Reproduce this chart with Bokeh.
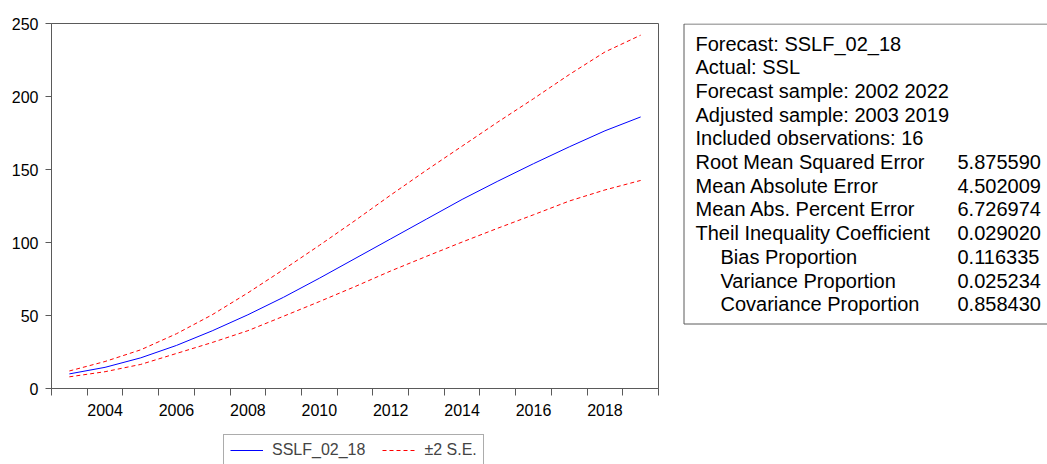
from bokeh.plotting import figure
from bokeh.models import Range1d, FixedTicker, Legend, LegendItem, ColumnDataSource
from bokeh.layouts import row, column
from bokeh.transform import dodge
from bokeh.core.properties import value
from bokeh.embed import file_html
from bokeh.resources import INLINE

# ---------------- data ----------------
years = list(range(2003, 2020))
forecast = [10, 14.5, 21, 29.5, 39.5, 50.5, 62.5, 75.5, 89, 102.5, 116, 129.5, 142, 154, 165.5, 176.5, 186]
upper = [12, 18.5, 26.5, 37.5, 50.5, 65.5, 81.5, 98, 115, 132.5, 149.5, 166, 182.5, 198.5, 215, 230.5, 242]
lower = [8, 11.5, 16.5, 24, 31.5, 39.6, 49.5, 59.5, 69.8, 80.5, 90.5, 100.3, 109.8, 119, 128.4, 136, 142.5]

x_tick_labels = ["2004", "2006", "2008", "2010", "2012", "2014", "2016", "2018"]
y_ticks = [0, 50, 100, 150, 200, 250]
series_names = ["SSLF_02_18", "\u00b12 S.E."]

stat_labels = [
    "Forecast: SSLF_02_18",
    "Actual: SSL",
    "Forecast sample: 2002 2022",
    "Adjusted sample: 2003 2019",
    "Included observations: 16",
    "Root Mean Squared Error",
    "Mean Absolute Error",
    "Mean Abs. Percent Error",
    "Theil Inequality Coefficient",
    "Bias Proportion",
    "Variance Proportion",
    "Covariance Proportion",
]
stat_values = ["", "", "", "", "", "5.875590", "4.502009", "6.726974",
               "0.029020", "0.116335", "0.025234", "0.858430"]
stat_indent = [0, 0, 0, 0, 0, 0, 0, 0, 0, 1, 1, 1]

# ---------------- style / layout ----------------
FONT = "Liberation Sans"
AXIS_COLOR = "#5a5a5a"
TOTAL_H = 464
LEGEND_H = 40
TOP_H = TOTAL_H - LEGEND_H
W1 = 681
W2 = 1047 - W1
FRAME_LEFT = 51
FRAME_RIGHT = 658
FRAME_TOP = 23
FRAME_BOTTOM = 388

src = ColumnDataSource(dict(year=years, forecast=forecast, upper=upper, lower=lower))

def dashed(fig, col):
    return fig.line(x=dodge("year", 0.5), y=col, source=src, line_color="#ff0000",
                    line_width=1, line_dash="4 3")

def solid(fig, col):
    return fig.line(x=dodge("year", 0.5), y=col, source=src, line_color="#0000ff", line_width=1)

# ---------------- main chart ----------------
p = figure(width=W1, height=TOP_H,
           x_range=Range1d(2003, 2020), y_range=Range1d(0, 250),
           output_backend="svg", toolbar_location=None,
           min_border_left=FRAME_LEFT, min_border_right=W1 - FRAME_RIGHT,
           min_border_top=FRAME_TOP, min_border_bottom=TOP_H - FRAME_BOTTOM)
p.xgrid.visible = False
p.ygrid.visible = False
p.outline_line_color = AXIS_COLOR
p.background_fill_color = "white"
p.border_fill_color = "white"

solid(p, "forecast")
dashed(p, "upper")
dashed(p, "lower")

xa = p.xaxis[0]
xa.ticker = FixedTicker(ticks=[int(t) + 0.5 for t in x_tick_labels],
                        minor_ticks=years + [years[-1] + 1])
xa.major_label_overrides = {int(t) + 0.5: t for t in x_tick_labels}
xa.major_tick_out = 0
xa.major_tick_in = 0
xa.major_tick_line_color = None
xa.minor_tick_out = 7
xa.minor_tick_in = 0
xa.minor_tick_line_color = AXIS_COLOR
xa.axis_line_color = AXIS_COLOR
xa.major_label_standoff = 8
xa.major_label_text_font = FONT
xa.major_label_text_font_size = "16px"
xa.major_label_text_color = "black"

ya = p.yaxis[0]
ya.ticker = FixedTicker(ticks=y_ticks)
ya.major_tick_out = 6
ya.major_tick_in = 0
ya.major_tick_line_color = AXIS_COLOR
ya.minor_tick_line_color = None
ya.axis_line_color = AXIS_COLOR
ya.major_label_standoff = 7
ya.major_label_text_font = FONT
ya.major_label_text_font_size = "16px"
ya.major_label_text_color = "black"

# ---------------- statistics box ----------------
p2 = figure(width=W2, height=TOP_H, x_range=Range1d(0, W2),
            y_range=Range1d(FRAME_BOTTOM, FRAME_TOP),
            output_backend="svg", toolbar_location=None,
            min_border_left=0, min_border_right=0,
            min_border_top=FRAME_TOP, min_border_bottom=TOP_H - FRAME_BOTTOM,
            x_axis_type=None, y_axis_type=None)
p2.xgrid.visible = False
p2.ygrid.visible = False
p2.outline_line_color = None
p2.background_fill_color = "white"
p2.border_fill_color = "white"

p2.quad(left=[2.5], right=[W2 + 40], top=[23.5], bottom=[323.5],
        fill_color="white", line_color=AXIS_COLOR, line_width=1)

rows = list(range(len(stat_labels)))
stat_src = ColumnDataSource(dict(
    label=stat_labels, val=stat_values,
    lx=[14 + 25 * ind for ind in stat_indent],
    vx=[276 for _ in rows],
    y=[43 + 23.7 * i for i in rows],
))
p2.text(x="lx", y="y", text="label", source=stat_src, text_font=value(FONT),
        text_font_size="20px", text_baseline="middle", text_align="left", text_color="black")
p2.text(x="vx", y="y", text="val", source=stat_src, text_font=value(FONT),
        text_font_size="20px", text_baseline="middle", text_align="left", text_color="black")

# ---------------- legend strip ----------------
p3 = figure(width=W1, height=LEGEND_H,
            x_range=Range1d(2003, 2020), y_range=Range1d(1000, 1001),
            output_backend="svg", toolbar_location=None,
            min_border_left=FRAME_LEFT, min_border_right=W1 - FRAME_RIGHT,
            min_border_top=0, min_border_bottom=0,
            x_axis_type=None, y_axis_type=None)
p3.xgrid.visible = False
p3.ygrid.visible = False
p3.outline_line_color = None
p3.background_fill_color = "white"
p3.border_fill_color = "white"

lg_f = solid(p3, "forecast")
lg_u = dashed(p3, "upper")

legend = Legend(items=[LegendItem(label=series_names[0], renderers=[lg_f]),
                       LegendItem(label=series_names[1], renderers=[lg_u])],
                orientation="horizontal", location=(172, -2),
                border_line_color=AXIS_COLOR, border_line_width=1,
                padding=6, spacing=17, margin=0,
                glyph_width=33, glyph_height=14, label_height=14, label_standoff=9,
                label_text_font=FONT, label_text_font_size="16px",
                background_fill_color="white", background_fill_alpha=1)
p3.add_layout(legend)

layout = column(row(p, p2), p3)
open("out.html", "w").write(file_html(layout, INLINE))
